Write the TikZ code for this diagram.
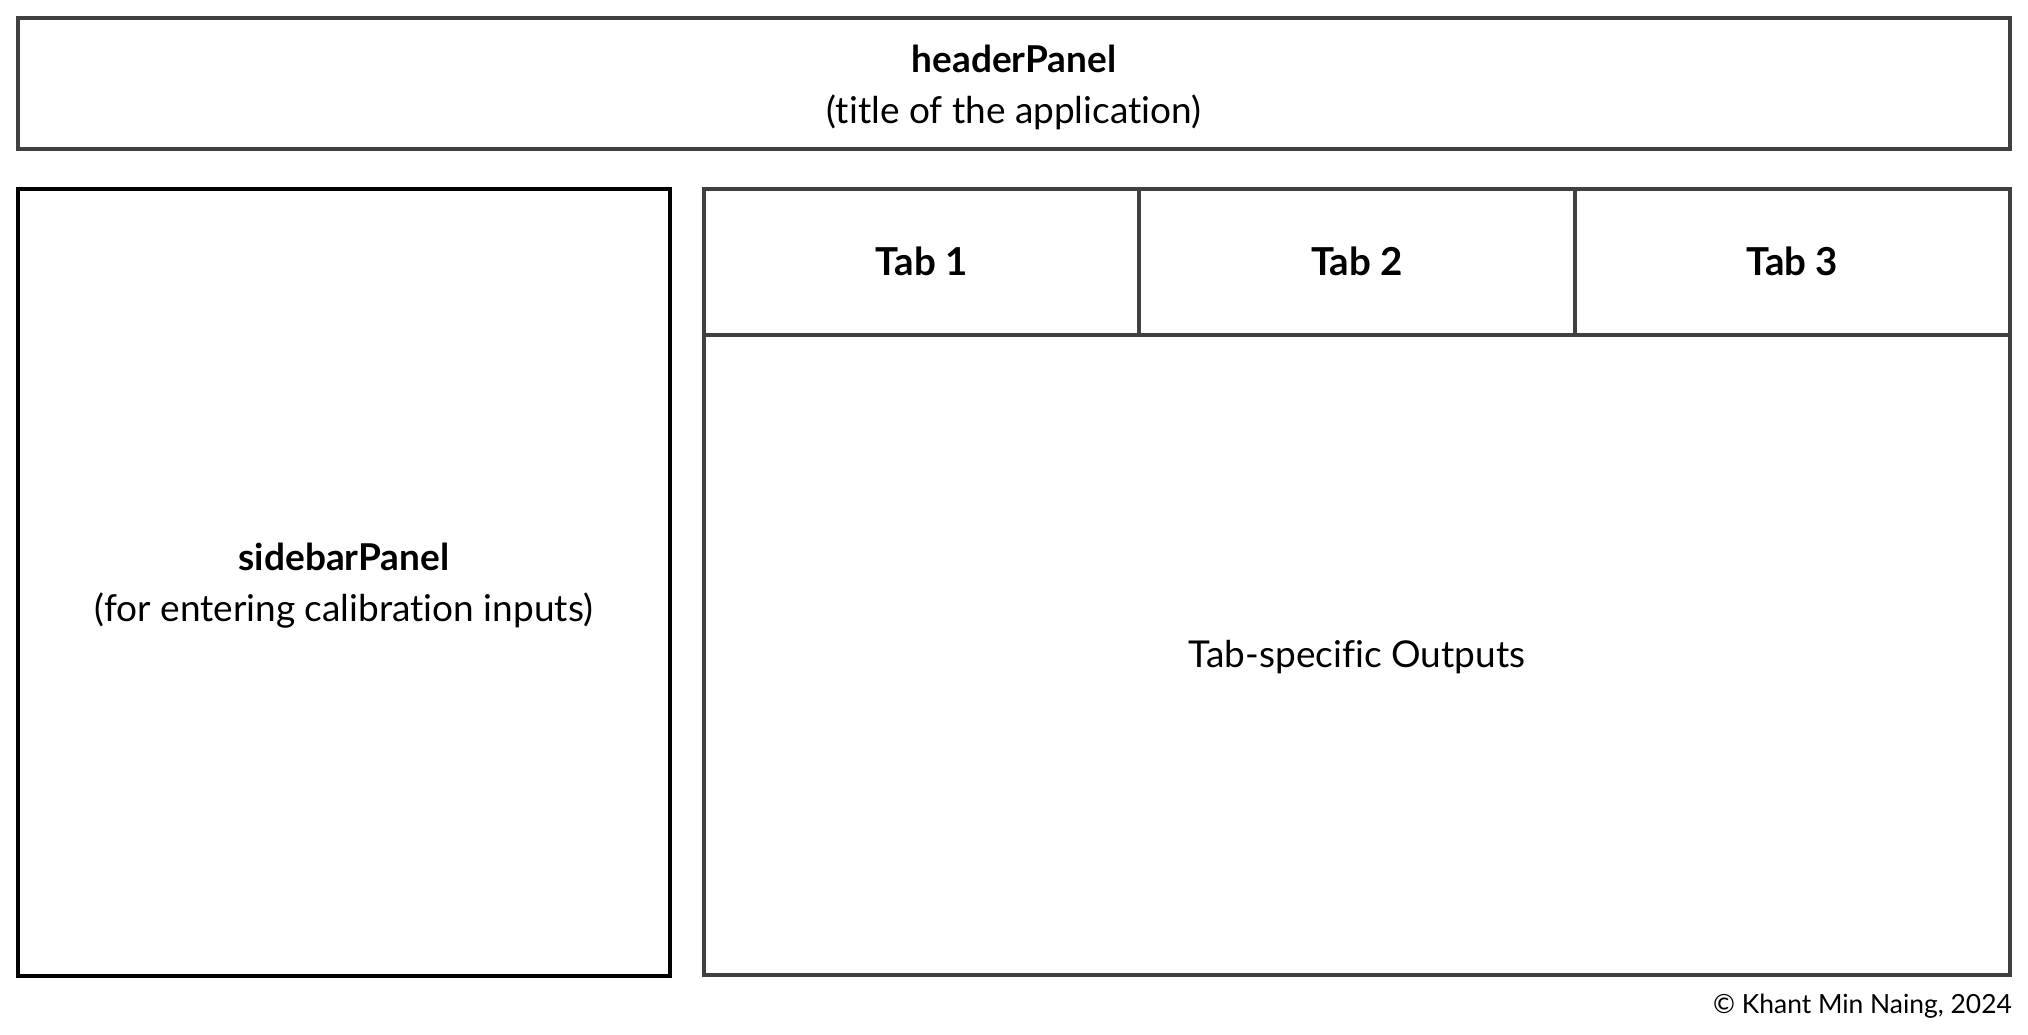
\documentclass[tikz,border=0pt]{standalone}
\usepackage{fontspec}
\setmainfont{Lato}[Ligatures=NoCommon]
\definecolor{boxgray}{HTML}{404040}
\begin{document}
\begin{tikzpicture}[x=1pt,y=-1pt,
  panel/.style={draw=boxgray,line width=4pt,rectangle,inner sep=0pt,outer sep=0pt},
  blackpanel/.style={panel,draw=black},
  lbl/.style={inner sep=0pt,align=center,font=\fontsize{37}{51}\selectfont},
  tablbl/.style={inner sep=0pt,align=center,font=\fontsize{38.5}{51}\selectfont\bfseries}]
\useasboundingbox (0,0) rectangle (2028,1035);
\fill[white] (0,0) rectangle (2028,1035);
\node[panel,minimum width=1992pt,minimum height=131pt] (header) at (1014,84) {};
\node[lbl] (headertext) at (1014,87) {\textbf{headerPanel}\\(title of the application)};
\node[blackpanel,minimum width=652pt,minimum height=787pt] (sidebar) at (344,582.5) {};
\node[lbl] (sidebartext) at (344,586) {\textbf{sidebarPanel}\\(for entering calibration inputs)};
\node[panel,minimum width=435.3pt,minimum height=146pt] (tab1) at (921.7,262) {};
\node[panel,minimum width=435.3pt,minimum height=146pt] (tab2) at (1357,262) {};
\node[panel,minimum width=435.3pt,minimum height=146pt] (tab3) at (1792.3,262) {};
\node[tablbl,yshift=1pt] (tab1text) at (tab1.center) {Tab 1};
\node[tablbl,yshift=1pt] (tab2text) at (tab2.center) {Tab 2};
\node[tablbl,yshift=1pt] (tab3text) at (tab3.center) {Tab 3};
\node[panel,minimum width=1306pt,minimum height=640pt] (out) at (1357,655) {};
\node[lbl] (outtext) at (1357,657.5) {Tab-specific Outputs};
\node[anchor=east,inner sep=0pt,font=\fontsize{26.4}{32}\selectfont] (copy) at (2012,1006) {© Khant Min Naing, 2024};
\end{tikzpicture}
\end{document}
